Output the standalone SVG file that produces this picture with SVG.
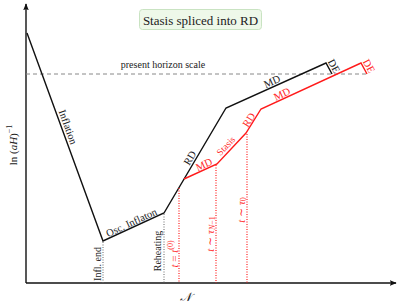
<svg xmlns="http://www.w3.org/2000/svg" width="399" height="308" viewBox="0 0 399 308">
<style>
text{font-family:"Liberation Serif","DejaVu Serif",serif;fill:#222}
.lbl{text-anchor:middle;dominant-baseline:central}
.red{fill:#ff2a2a}
.blk{fill:none;stroke:#111;stroke-width:1.4;stroke-linejoin:miter}
.rd{fill:none;stroke:#ff1a1a;stroke-width:1.4}
.gdot{stroke:#666;stroke-width:1;stroke-dasharray:1,1.5}
.rdot{stroke:#ff2020;stroke-width:1.2;stroke-dasharray:1,1.5}
</style>
<defs>
<marker id="ah" viewBox="0 0 10 10" refX="9" refY="5" markerWidth="7" markerHeight="7" orient="auto" markerUnits="userSpaceOnUse">
<path d="M0,1 L10,5 L0,9 L2,5 Z" fill="#111"/>
</marker>
</defs>
<g id="axes">
<line x1="26" y1="283" x2="26" y2="4" stroke="#111" stroke-width="1.4" marker-end="url(#ah)"/>
<line x1="26" y1="283" x2="396" y2="283" stroke="#111" stroke-width="1.4" marker-end="url(#ah)"/>
<text class="lbl" transform="translate(13,145) rotate(-90)" font-size="11">ln (<tspan font-style="italic">aH</tspan>)<tspan font-size="8" dy="-4">−1</tspan></text>
<text class="lbl" x="185" y="297" font-style="italic" font-size="12">𝒩</text>
</g>
<g id="title">
<rect x="139.5" y="9.5" width="122" height="20" rx="3" fill="#eef8e9" stroke="#c9e3c2"/>
<text class="lbl" x="200.5" y="20" font-size="13">Stasis spliced into RD</text>
</g>
<g id="horizon">
<line x1="26" y1="74" x2="367" y2="74" stroke="#888" stroke-width="1" stroke-dasharray="4,3"/>
<text x="163" y="68" text-anchor="middle" font-size="10">present horizon scale</text>
</g>
<g id="connectors">
<polyline class="blk" points="27,33 103,241 164,213 226,108 326,63 332,74"/>
<polyline class="rd" points="184,179 217,164 246,133 261,109 361,63 367,74"/>
<line class="gdot" x1="103" y1="242" x2="103" y2="283"/>
<line class="gdot" x1="164" y1="214" x2="164" y2="283"/>
<line class="rdot" x1="179" y1="188" x2="179" y2="283"/>
<line class="rdot" x1="216" y1="165" x2="216" y2="283"/>
<line class="rdot" x1="247" y1="134" x2="247" y2="283"/>
</g>
<g id="black-labels">
<text class="lbl" transform="translate(68,127) rotate(70)" font-size="10.5">Inflation</text>
<text class="lbl" transform="translate(131.5,222.5) rotate(-24.7)" font-size="10.5">Osc. Inflaton</text>
<text class="lbl" transform="translate(97,264) rotate(-90)" font-size="10">Infl. end</text>
<text class="lbl" transform="translate(157,251) rotate(-90)" font-size="10">Reheating</text>
<text class="lbl" transform="translate(190,158) rotate(-59.4)" font-size="10.5">RD</text>
<text class="lbl" transform="translate(272,81.5) rotate(-24.2)" font-size="10.5">MD</text>
<text class="lbl" transform="translate(334,66) rotate(62)" font-size="10.5">DE</text>
</g>
<g id="red-labels">
<text class="lbl red" transform="translate(204,164.5) rotate(-24.4)" font-size="10.5">MD</text>
<text class="lbl red" transform="translate(226,146) rotate(-46.9)" font-size="9.5">Stasis</text>
<text class="lbl red" transform="translate(249,120) rotate(-58)" font-size="10.5">RD</text>
<text class="lbl red" transform="translate(282,94) rotate(-24.7)" font-size="10.5">MD</text>
<text class="lbl red" transform="translate(369,66) rotate(62)" font-size="10.5">DE</text>
<text class="lbl red" transform="translate(174,254) rotate(-90)" font-size="11"><tspan font-style="italic">t</tspan> = <tspan font-style="italic">t</tspan><tspan font-size="8" dy="-4">(0)</tspan></text>
<text class="lbl red" transform="translate(210,234) rotate(-90)" font-size="11"><tspan font-style="italic">t</tspan> ∼ <tspan font-style="italic">τ</tspan><tspan font-size="8" dy="2"><tspan font-style="italic">N</tspan>−1</tspan></text>
<text class="lbl red" transform="translate(241,210) rotate(-90)" font-size="11"><tspan font-style="italic">t</tspan> ∼ <tspan font-style="italic">τ</tspan><tspan font-size="8" dy="2">0</tspan></text>
</g>
</svg>
